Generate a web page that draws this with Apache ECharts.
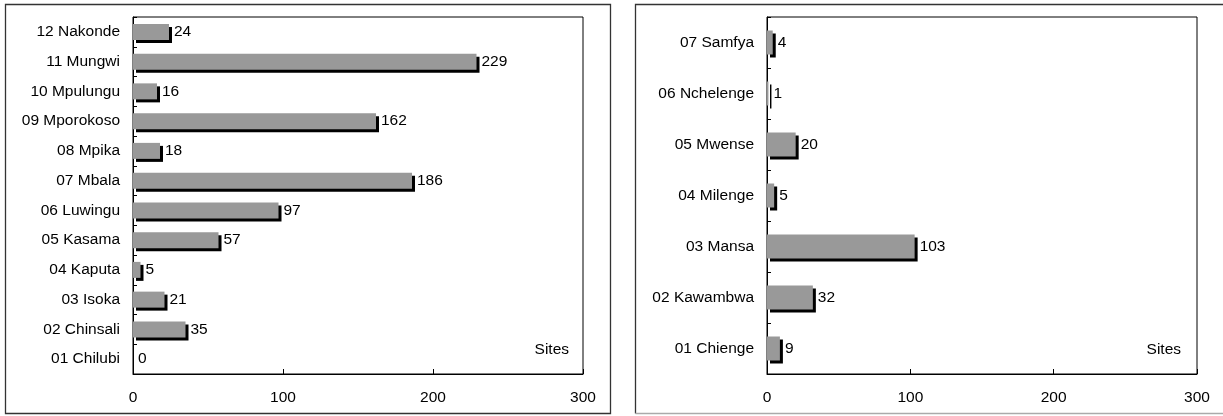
<!DOCTYPE html>
<html>
<head>
<meta charset="utf-8">
<script src="https://cdn.jsdelivr.net/npm/echarts@6/dist/echarts.min.js"></script>
<style>
  html, body { margin: 0; padding: 0; background: #fff; }
  #chart { width: 1223px; height: 416px; }
</style>
</head>
<body>
<div id="chart"></div>
<script>
// Northern province (left) and Luapula province (right), sites per district
const northCategories = ['01 Chilubi', '02 Chinsali', '03 Isoka', '04 Kaputa', '05 Kasama', '06 Luwingu',
  '07 Mbala', '08 Mpika', '09 Mporokoso', '10 Mpulungu', '11 Mungwi', '12 Nakonde'];
const northSites = [0, 35, 21, 5, 57, 97, 186, 18, 162, 16, 229, 24];

const luapulaCategories = ['01 Chienge', '02 Kawambwa', '03 Mansa', '04 Milenge', '05 Mwense', '06 Nchelenge', '07 Samfya'];
const luapulaSites = [9, 32, 103, 5, 20, 1, 4];

const axisMin = 0;
const axisMax = 300;
const axisStep = 100;
const axisTitle = 'Sites';

const FONT = 'Arial, "Liberation Sans", sans-serif';
const FS = 15.5;

const chart = echarts.init(document.getElementById('chart'));

function xAxisFor(gridIndex) {
  return {
    type: 'value',
    gridIndex,
    min: axisMin,
    max: axisMax,
    interval: axisStep,
    axisLine: { show: true, lineStyle: { color: '#000', width: 1 } },
    axisTick: { show: true, inside: true, length: 5, lineStyle: { color: '#000' } },
    axisLabel: { color: '#000', fontFamily: FONT, fontSize: FS, margin: 16 },
    splitLine: { show: false }
  };
}

function yAxisFor(gridIndex, cats) {
  return {
    type: 'category',
    gridIndex,
    data: cats,
    axisLine: { show: true, lineStyle: { color: '#000', width: 1 } },
    axisTick: { show: true, inside: true, length: 4, lineStyle: { color: '#000' } },
    axisLabel: { color: '#000', fontFamily: FONT, fontSize: FS, margin: 13 },
    splitLine: { show: false }
  };
}

function barSeries(idx, values, width) {
  return {
    type: 'bar',
    xAxisIndex: idx,
    yAxisIndex: idx,
    barWidth: width,
    data: values,
    itemStyle: {
      color: '#999999',
      borderWidth: 0,
      shadowColor: '#000',
      shadowBlur: 0,
      shadowOffsetX: 3,
      shadowOffsetY: 3
    },
    label: {
      show: true,
      position: 'right',
      distance: 5,
      color: '#000',
      fontFamily: FONT,
      fontSize: FS
    },
    emphasis: { disabled: true },
    animation: false
  };
}

const option = {
  animation: false,
  grid: [
    { left: 133, top: 17, width: 450, bottom: 42, show: true, borderColor: '#000', borderWidth: 1, backgroundColor: '#fff' },
    { left: 767, top: 17, width: 430, bottom: 42, show: true, borderColor: '#000', borderWidth: 1, backgroundColor: '#fff' }
  ],
  xAxis: [xAxisFor(0), xAxisFor(1)],
  yAxis: [yAxisFor(0, northCategories), yAxisFor(1, luapulaCategories)],
  series: [
    barSeries(0, northSites, 16),
    barSeries(1, luapulaSites, 24)
  ],
  graphic: [
    // panel frames
    { type: 'rect', z: -10, shape: { x: 5.5, y: 4.5, width: 605, height: 409 },
      style: { fill: 'none', stroke: '#333', lineWidth: 1.3 } },
    { type: 'polyline', z: -10, shape: { points: [[1230, 4.5], [635.5, 4.5], [635.5, 413.5]] },
      style: { fill: 'none', stroke: '#333', lineWidth: 1.3 } },
    { type: 'line', z: -10, shape: { x1: 635.5, y1: 413.5, x2: 1230, y2: 413.5 },
      style: { stroke: '#aaa', lineWidth: 1.3 } },
    // axis titles inside the plots
    { type: 'text', z: 10, x: 569, y: 350,
      style: { text: axisTitle, font: FS + 'px ' + FONT, fill: '#000', textAlign: 'right', textVerticalAlign: 'middle' } },
    { type: 'text', z: 10, x: 1181, y: 350,
      style: { text: axisTitle, font: FS + 'px ' + FONT, fill: '#000', textAlign: 'right', textVerticalAlign: 'middle' } }
  ]
};

chart.setOption(option);
</script>
</body>
</html>
